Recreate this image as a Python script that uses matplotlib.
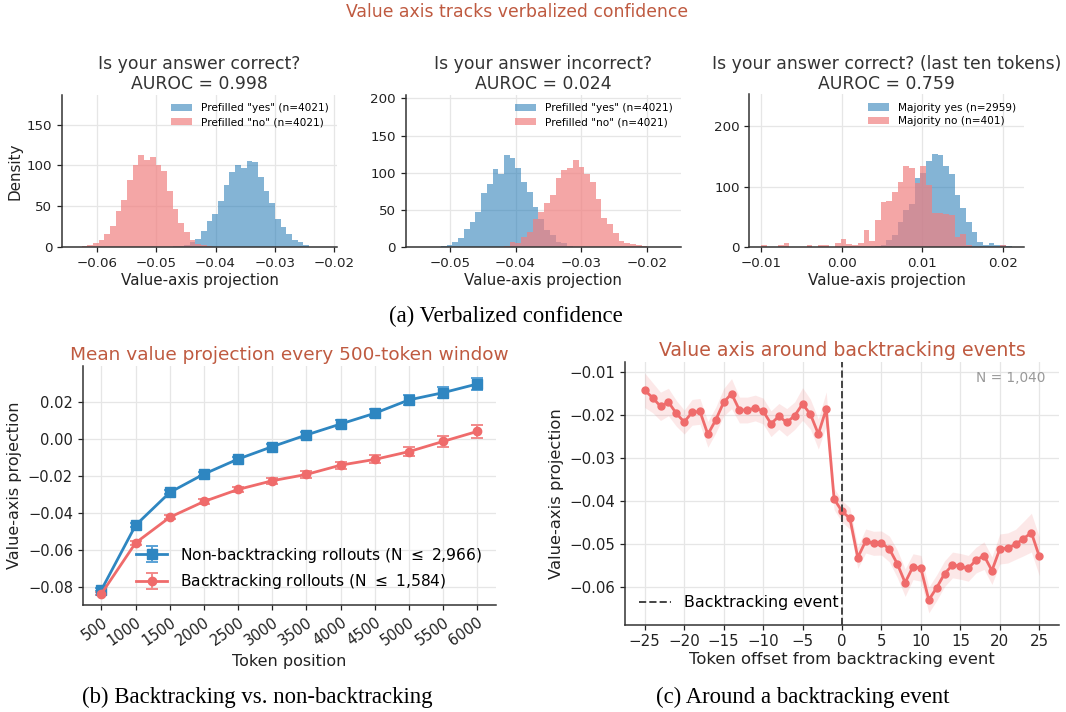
import numpy as np
import matplotlib
matplotlib.use("Agg")
import matplotlib.pyplot as plt
from matplotlib.ticker import MultipleLocator, FuncFormatter

# ---------------- data ----------------
# (a) histograms: densities per bin
h1_edge_lo, h1_edge_hi = -0.0626, -0.0242
h1_yes = [0, 0, 0, 0, 0, 0, 0, 0, 0, 0, 0, 0, 0, 0, 0,
          0.5, 1, 1.5, 3, 6, 10, 20, 32, 41, 56, 76, 92, 100, 97, 106,
          104, 86, 69, 54, 34, 24, 16, 8, 6, 3]
h1_no = [1, 2, 5, 8, 16, 26, 44, 58, 82, 100, 113, 107, 111, 100, 93,
         69, 46, 30, 18, 9, 4, 2, 1, 0, 0, 0, 0, 0, 0, 0,
         0, 0, 0, 0, 0, 0, 0, 0, 0, 0]

h2_edge_lo, h2_edge_hi = -0.05137, -0.01991
h2_yes = [1.8, 3, 7, 12.5, 24.7, 34, 47.5, 73.5, 85, 105, 99, 124, 120, 106,
          88, 74.4, 54, 38, 23, 16.6, 6.7, 5.8, 1.8, 0, 0, 0, 0, 0, 0, 0,
          0, 0, 0, 0, 0, 0]
h2_no = [0, 0, 0, 0, 0, 0, 0, 0, 0, 0, 1, 2, 7, 6, 14, 21, 38, 47.5, 59.6,
         70.4, 93.7, 104, 106.7, 117, 108.5, 98, 88, 65, 39.5, 31.4, 19.3,
         8, 6, 4, 2.7, 1.8]

h3_edge_lo, h3_edge_hi = -0.00996, 0.02102
h3_yes = [0, 0, 0, 0, 0, 0, 0, 0, 0, 0, 0, 0, 0, 0, 0, 0, 0, 0, 0, 0,
          1.5, 4, 11.7, 20, 42, 60.5, 71.7, 114, 123, 143, 153, 152, 134,
          121, 86.7, 65, 42, 25.5, 7.8, 3.9, 6, 2.8, 2.8, 1.7]
h3_no = [3, 0, 0, 3, 6, 0, 0, 0, 3, 0, 3, 3, 0, 6, 12.8, 5, 3, 6.7, 28,
         10, 45, 74, 76, 90.5, 108, 134, 130, 106, 134, 102, 56, 56, 55,
         53, 16, 21, 3, 0, 0, 0, 0, 0, 3, 0]

hist_titles = ["Is your answer correct?\nAUROC = 0.998",
               "Is your answer incorrect?\nAUROC = 0.024",
               "Is your answer correct? (last ten tokens)\nAUROC = 0.759"]
hist_labels = [('Prefilled "yes" (n=4021)', 'Prefilled "no" (n=4021)'),
               ('Prefilled "yes" (n=4021)', 'Prefilled "no" (n=4021)'),
               ('Majority yes (n=2959)', 'Majority no (n=401)')]

# (b) mean value projection per 500-token window
token_pos = [500, 1000, 1500, 2000, 2500, 3000, 3500, 4000, 4500, 5000, 5500, 6000]
nonbt_mean = [-0.0813, -0.0465, -0.0288, -0.0189, -0.0108, -0.0041, 0.0022,
              0.0081, 0.0139, 0.0211, 0.0250, 0.0297]
nonbt_err = [0.0008, 0.0010, 0.0011, 0.0012, 0.0013, 0.0014, 0.0017, 0.0019,
             0.0022, 0.0026, 0.0029, 0.0032]
bt_mean = [-0.0834, -0.0560, -0.0422, -0.0337, -0.0272, -0.0225, -0.0191,
           -0.0141, -0.0110, -0.0068, -0.0013, 0.0041]
bt_err = [0.0010, 0.0011, 0.0012, 0.0013, 0.0014, 0.0015, 0.0017, 0.0019,
          0.0022, 0.0025, 0.0029, 0.0033]

# (c) around backtracking events
offsets = list(range(-25, 26))
around_mean = [-0.01426, -0.01597, -0.01798, -0.01698, -0.01961, -0.02163,
               -0.01938, -0.01915, -0.02450, -0.02116, -0.01705, -0.01504,
               -0.01884, -0.01884, -0.01837, -0.01907, -0.02202, -0.02031,
               -0.02171, -0.02016, -0.01744, -0.01984, -0.02442, -0.01860,
               -0.03953, -0.04240, -0.04403, -0.05318, -0.04930, -0.04984,
               -0.04977, -0.05116, -0.05457, -0.05899, -0.05527, -0.05566,
               -0.06302, -0.06016, -0.05690, -0.05488, -0.05519, -0.05566,
               -0.05372, -0.05271, -0.05620, -0.05116, -0.05093, -0.05008,
               -0.04876, -0.04736, -0.05287]
around_ci = [0.0040, 0.0035, 0.0033, 0.0032, 0.0030, 0.0028, 0.0030, 0.0030,
             0.0030, 0.0030, 0.0032, 0.0035, 0.0030, 0.0030, 0.0030, 0.0030,
             0.0030, 0.0030, 0.0032, 0.0032, 0.0038, 0.0035, 0.0035, 0.0040,
             0.0025, 0.0025, 0.0025, 0.0025, 0.0028, 0.0028, 0.0028, 0.0030,
             0.0032, 0.0032, 0.0030, 0.0030, 0.0030, 0.0030, 0.0030, 0.0030,
             0.0030, 0.0030, 0.0030, 0.0032, 0.0032, 0.0035, 0.0035, 0.0035,
             0.0040, 0.0045, 0.0045]

# ---------------- style ----------------
plt.rcParams['font.family'] = ['DejaVu Sans']
plt.rcParams['axes.unicode_minus'] = True
ACCENT = '#bf5a40'
BLUE_H, RED_H = '#1f77b4', '#f08080'
BLUE_L, RED_L = '#2e86c1', '#ef6b6b'
BLUE_E, RED_E = '#5aa2d6', '#f28a8a'
GRID = '#e6e6e6'
TXT = '#222222'

fmt2 = FuncFormatter(lambda v, p: ('%.2f' % v).replace('-', '\u2212')
                     if abs(v) > 1e-12 else '0.00')

fig = plt.figure(figsize=(10.66, 7.12), dpi=100)
W, H = 1066, 712


def add_ax(l, t, r, b):
    return fig.add_axes([l / W, 1 - b / H, (r - l) / W, (b - t) / H])


def style(ax, tick_fs):
    for s in ('top', 'right'):
        ax.spines[s].set_visible(False)
    for s in ('left', 'bottom'):
        ax.spines[s].set_color('#333333')
        ax.spines[s].set_linewidth(1.1)
    ax.grid(True, color=GRID, linewidth=0.9)
    ax.set_axisbelow(True)
    ax.tick_params(labelsize=tick_fs, colors=TXT, length=3.5, width=0.9)


# ---------------- (a) histograms ----------------
hist_boxes = [(62, 95, 337, 247), (405.7, 95, 681, 247.3), (749.3, 94.3, 1024.3, 247)]
hist_data = [(h1_edge_lo, h1_edge_hi, h1_yes, h1_no),
             (h2_edge_lo, h2_edge_hi, h2_yes, h2_no),
             (h3_edge_lo, h3_edge_hi, h3_yes, h3_no)]
xlims = [(-0.0659, -0.0195), (-0.05675, -0.01477), (-0.01141, 0.0226)]
xticks = [[-0.06, -0.05, -0.04, -0.03, -0.02], [-0.05, -0.04, -0.03, -0.02],
          [-0.01, 0.0, 0.01, 0.02]]
ystep = [50, 50, 100]

for i in range(3):
    ax = add_ax(*hist_boxes[i])
    lo, hi, yes, no = hist_data[i]
    edges = np.linspace(lo, hi, len(yes) + 1)
    centers = (edges[:-1] + edges[1:]) / 2
    ax.hist(centers, bins=edges, weights=yes, color=BLUE_H, alpha=0.55,
            label=hist_labels[i][0])
    ax.hist(centers, bins=edges, weights=no, color=RED_H, alpha=0.7,
            label=hist_labels[i][1])
    style(ax, 9.6)
    ax.set_xlim(*xlims[i])
    ax.set_ylim(0, max(max(yes), max(no)) * 1.65)
    ax.set_xticks(xticks[i])
    ax.xaxis.set_major_formatter(fmt2)
    ax.yaxis.set_major_locator(MultipleLocator(ystep[i]))
    ax.set_xlabel('Value-axis projection', fontsize=10.9, color=TXT, labelpad=2)
    if i == 0:
        ax.set_ylabel('Density', fontsize=10.9, color=TXT, labelpad=3)
    ax.set_title(hist_titles[i], fontsize=12.4, color='#333333', pad=4,
                 linespacing=1.15)
    ax.legend(loc='upper right', frameon=False, fontsize=7.6,
              handlelength=2.0, borderaxespad=0.4, labelspacing=0.35)

fig.text(517 / W, 1 - 12 / H, 'Value axis tracks verbalized confidence',
         ha='center', va='center', fontsize=12.4, color=ACCENT)
fig.text(506 / W, 1 - 316 / H, '(a) Verbalized confidence', ha='center',
         va='center', fontsize=16.4, family='Liberation Serif', color='black')

# ---------------- (b) ----------------
axb = add_ax(82.7, 366, 496, 605.3)
style(axb, 10.5)
axb.errorbar(token_pos, nonbt_mean, yerr=nonbt_err, color=BLUE_L, marker='s',
             markersize=6.5, linewidth=2, capsize=4.5, elinewidth=1.4,
             ecolor=BLUE_E, capthick=1.4,
             label=r'Non-backtracking rollouts (N $\leq$ 2,966)')
axb.errorbar(token_pos, bt_mean, yerr=bt_err, color=RED_L, marker='o',
             markersize=6, linewidth=2, capsize=4.5, elinewidth=1.4,
             ecolor=RED_E, capthick=1.4,
             label=r'Backtracking rollouts (N $\leq$ 1,584)')
axb.set_xticks(token_pos)
axb.set_xticklabels([str(t) for t in token_pos], rotation=35, ha='right',
                    rotation_mode='anchor')
axb.set_ylim(-0.0897, 0.0394)
axb.set_yticks([-0.08, -0.06, -0.04, -0.02, 0.0, 0.02])
axb.yaxis.set_major_formatter(fmt2)
axb.set_xlabel('Token position', fontsize=11.5, color=TXT)
axb.set_ylabel('Value-axis projection', fontsize=11.5, color=TXT)
axb.set_title('Mean value projection every 500-token window', fontsize=13.3,
              color=ACCENT, pad=4)
axb.legend(loc='lower right', frameon=False, fontsize=11.2)

fig.text(257.5 / W, 1 - 697 / H, '(b) Backtracking vs. non-backtracking',
         ha='center', va='center', fontsize=16.4, family='Liberation Serif',
         color='black')

# ---------------- (c) ----------------
axc = add_ax(625, 361.7, 1059, 624.7)
style(axc, 10.8)
m = np.array(around_mean)
ci = np.array(around_ci)
axc.fill_between(offsets, m - ci, m + ci, color=RED_L, alpha=0.15,
                 linewidth=0)
axc.plot(offsets, around_mean, color=RED_L, marker='o', markersize=5,
         linewidth=2)
axc.axvline(0, color='#444444', linestyle='--', linewidth=1.4,
            label='Backtracking event')
axc.set_xlim(-27.5, 27.5)
axc.set_ylim(-0.06877, -0.0076)
axc.set_xticks(range(-25, 26, 5))
axc.set_yticks([-0.06, -0.05, -0.04, -0.03, -0.02, -0.01])
axc.yaxis.set_major_formatter(fmt2)
axc.set_xlabel('Token offset from backtracking event', fontsize=11.8,
               color=TXT, labelpad=2)
axc.set_ylabel('Value-axis projection', fontsize=11.8, color=TXT)
axc.set_title('Value axis around backtracking events', fontsize=13.6,
              color=ACCENT, pad=4)
axc.legend(loc='lower left', frameon=False, fontsize=11.4)
axc.text(0.968, 0.937, 'N = 1,040', transform=axc.transAxes, ha='right',
         va='center', fontsize=9.8, color='#999999')

fig.text(802.5 / W, 1 - 697 / H, '(c) Around a backtracking event',
         ha='center', va='center', fontsize=16.4, family='Liberation Serif',
         color='black')

fig.savefig('out.png', dpi=100)
